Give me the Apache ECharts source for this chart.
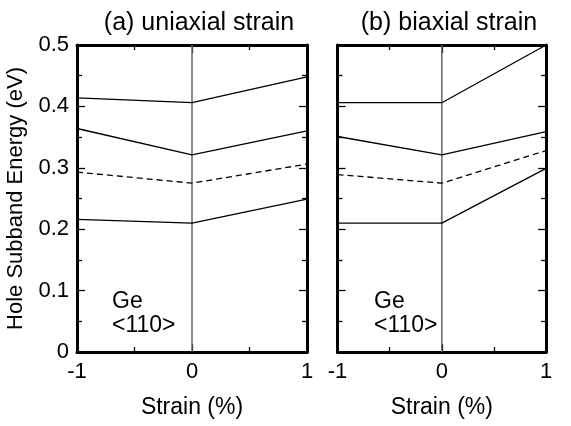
<!DOCTYPE html>
<html>
<head>
<meta charset="utf-8">
<script src="https://cdn.jsdelivr.net/npm/echarts@6/dist/echarts.min.js"></script>
<style>
  html, body { margin: 0; padding: 0; background: #fff; }
  #chart { width: 571px; height: 426px; }
</style>
</head>
<body>
<div id="chart"></div>
<script>
// Strain values along the x axis (%)
const strain = [-1, 0, 1];

// Hole subband energies (eV), uniaxial strain
const uniBand1 = [0.216, 0.210, 0.249];
const uniBand2 = [0.293, 0.275, 0.306];   // dashed
const uniBand3 = [0.364, 0.321, 0.360];
const uniBand4 = [0.414, 0.406, 0.448];

// Hole subband energies (eV), biaxial strain
const biBand1 = [0.210, 0.210, 0.299];
const biBand2 = [0.289, 0.275, 0.328];    // dashed
const biBand3 = [0.351, 0.321, 0.359];
const biBand4 = [0.406, 0.406, 0.500];

const panelTitles = ['(a) uniaxial strain', '(b) biaxial strain'];
const yTicks = [0, 0.1, 0.2, 0.3, 0.4, 0.5];
const xTicks = [-1, 0, 1];
const FONT = 'Liberation Sans, Arial, Helvetica, sans-serif';

const panels = [
  [uniBand1, uniBand2, uniBand3, uniBand4],
  [biBand1, biBand2, biBand3, biBand4]
];

const grids = [
  { left: 77, top: 45, width: 230, height: 307 },
  { left: 337.5, top: 45, width: 230, height: 307 }
];

const frame = () => ({ show: true, onZero: false, lineStyle: { color: '#000', width: 3 } });
const ticks = () => ({ show: true, inside: true, length: 8, lineStyle: { color: '#000', width: 1.3 } });
const minor = () => ({ show: true, splitNumber: 2, length: 5, lineStyle: { color: '#000', width: 1.3 } });
const quietLabel = () => ({ show: true, color: 'rgba(0,0,0,0)', fontSize: 10 });

const xAxes = [];
const yAxes = [];
const series = [];

grids.forEach((g, i) => {
  // bottom axis with labels
  xAxes.push({
    gridIndex: i, type: 'value', position: 'bottom',
    min: xTicks[0], max: xTicks[xTicks.length - 1], interval: 1,
    name: 'Strain (%)', nameLocation: 'middle', nameGap: 44,
    nameTextStyle: { fontFamily: FONT, fontSize: 23, color: '#000' },
    axisLine: frame(), axisTick: ticks(), minorTick: minor(),
    splitLine: { show: false },
    axisLabel: { fontFamily: FONT, fontSize: 22, color: '#000', margin: 9 }
  });
  // top axis, ticks only
  xAxes.push({
    gridIndex: i, type: 'value', position: 'top',
    min: xTicks[0], max: xTicks[xTicks.length - 1], interval: 1,
    axisLine: frame(), axisTick: ticks(), minorTick: minor(),
    splitLine: { show: false },
    axisLabel: quietLabel()
  });
  // left axis
  yAxes.push({
    gridIndex: i, type: 'value', position: 'left',
    min: yTicks[0], max: yTicks[yTicks.length - 1], interval: 0.1,
    name: i === 0 ? 'Hole Subband Energy (eV)' : '',
    nameLocation: 'middle', nameGap: 50,
    nameTextStyle: { fontFamily: FONT, fontSize: 22, color: '#000' },
    axisLine: frame(), axisTick: ticks(), minorTick: minor(),
    splitLine: { show: false },
    axisLabel: i === 0
      ? { fontFamily: FONT, fontSize: 22, color: '#000', margin: 8 }
      : quietLabel()
  });
  // right axis, ticks only
  yAxes.push({
    gridIndex: i, type: 'value', position: 'right',
    min: yTicks[0], max: yTicks[yTicks.length - 1], interval: 0.1,
    axisLine: frame(), axisTick: ticks(), minorTick: minor(),
    splitLine: { show: false },
    axisLabel: quietLabel()
  });

  // vertical reference line at zero strain
  series.push({
    type: 'line',
    xAxisIndex: i * 2, yAxisIndex: i * 2,
    data: [[xTicks[1], yTicks[0]], [xTicks[1], yTicks[yTicks.length - 1]]],
    symbol: 'none', silent: true,
    lineStyle: { color: '#666', width: 1.5 },
    z: 1
  });

  panels[i].forEach((band, k) => {
    series.push({
      type: 'line',
      xAxisIndex: i * 2, yAxisIndex: i * 2,
      data: strain.map((x, j) => [x, band[j]]),
      symbol: 'none',
      lineStyle: { color: '#000', width: 1.3, type: k === 1 ? [6, 4] : 'solid' },
      z: 3
    });
  });
});

const titles = [
  { text: panelTitles[0], left: 194, top: 6, textAlign: 'center',
    textStyle: { fontFamily: FONT, fontSize: 25, fontWeight: 'normal', color: '#000' } },
  { text: panelTitles[1], left: 444, top: 6, textAlign: 'center',
    textStyle: { fontFamily: FONT, fontSize: 25, fontWeight: 'normal', color: '#000' } },
  { text: 'Ge\n<110>', left: 107, top: 285,
    textStyle: { fontFamily: FONT, fontSize: 23, fontWeight: 'normal', color: '#000', lineHeight: 24 } },
  { text: 'Ge\n<110>', left: 369, top: 285,
    textStyle: { fontFamily: FONT, fontSize: 23, fontWeight: 'normal', color: '#000', lineHeight: 24 } }
];

const chart = echarts.init(document.getElementById('chart'), null, { renderer: 'canvas' });
chart.setOption({
  animation: false,
  title: titles,
  grid: grids,
  xAxis: xAxes,
  yAxis: yAxes,
  series: series
});
</script>
</body>
</html>
